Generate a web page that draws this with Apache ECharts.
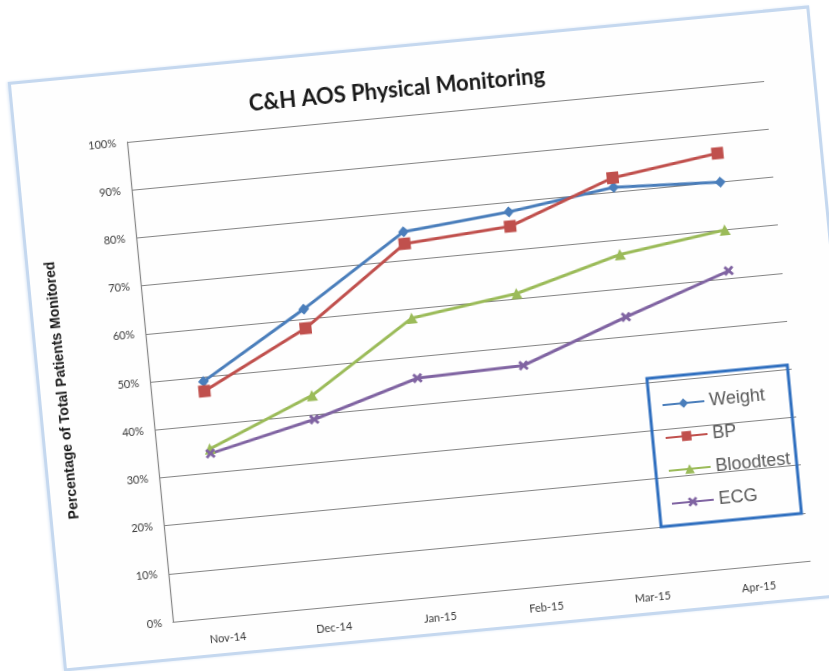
<!DOCTYPE html>
<html>
<head>
<meta charset="utf-8">
<title>C&amp;H AOS Physical Monitoring</title>
<script src="https://cdn.jsdelivr.net/npm/echarts@6/dist/echarts.min.js"></script>
<style>
  html, body { margin: 0; padding: 0; width: 829px; height: 671px; overflow: hidden; background: #fff; }
  /* the photo shows the chart tilted, so the whole card is turned round the plot corner */
  .card {
    position: absolute; left: 17px; top: 74px; width: 799px; height: 586px;
    background: #fefefe; box-shadow: 0 0 0 3px #c5d8ef, -1px 0 3px 3px #dde8f6;
    transform-origin: 110px 68px; transform: rotate(-5.47deg);
  }
  #chart { width: 799px; height: 586px; }
</style>
</head>
<body>
<div class="card"><div id="chart"></div></div>
<script>
// data (percent of total patients)
const months = ['Nov-14', 'Dec-14', 'Jan-15', 'Feb-15', 'Mar-15', 'Apr-15'];
const weight = [49, 62, 76, 78, 81, 80];
const bp = [47, 58, 73.5, 75, 83, 86];
const bloodtest = [35, 44, 58, 61, 67, 70];
const ecg = [34, 39, 45.5, 46, 54, 61.5];

const crossPath = 'path://M0,2L2,0L5,3L8,0L10,2L7,5L10,8L8,10L5,7L2,10L0,8L3,5Z';

const chart = echarts.init(document.getElementById('chart'));

function lineSeries(name, data, color, symbol, size) {
  return {
    name: name,
    type: 'line',
    data: data,
    symbol: symbol,
    symbolSize: size,
    showSymbol: true,
    lineStyle: { color: color, width: 3 },
    itemStyle: { color: color },
    emphasis: { disabled: true },
    z: 3,
  };
}

const option = {
  animation: false,
  title: {
    text: 'C&H AOS Physical Monitoring',
    left: 230,
    top: 26,
    textStyle: { fontFamily: 'Lato', fontWeight: 'bold', fontSize: 22, color: '#1a1a1a' },
  },
  grid: {
    left: 110,
    top: 68,
    width: 640,
    height: 482,
    containLabel: false,
  },
  legend: {
    orient: 'vertical',
    left: 612,
    top: 366,
    itemWidth: 42,
    itemHeight: 12,
    itemGap: 13,
    textStyle: { fontFamily: 'Liberation Sans', fontSize: 18, lineHeight: 20, color: '#5a5a5a' },
    data: ['Weight', 'BP', 'Bloodtest', 'ECG'],
  },
  graphic: [
    {
      type: 'rect',
      shape: { x: 605, y: 353, width: 141, height: 149 },
      style: { fill: 'none', stroke: '#2f6fbf', lineWidth: 3 },
      z: 10,
    },
  ],
  xAxis: {
    type: 'category',
    data: months,
    boundaryGap: true,
    axisLine: { show: true, lineStyle: { color: '#858585', width: 1.2 } },
    axisTick: { show: false },
    axisLabel: { margin: 16, fontFamily: 'Lato', fontSize: 11, color: '#3a3a3a' },
  },
  yAxis: {
    type: 'value',
    min: 0,
    max: 100,
    interval: 10,
    name: 'Percentage of Total Patients Monitored',
    nameLocation: 'middle',
    nameGap: 81,
    nameTextStyle: { fontFamily: 'Liberation Sans', fontWeight: 'bold', fontSize: 14, color: '#1a1a1a' },
    axisLine: { show: true, lineStyle: { color: '#858585', width: 1.2 } },
    axisTick: { show: false },
    axisLabel: { margin: 11, fontFamily: 'Lato', fontSize: 11, color: '#3a3a3a', formatter: '{value}%' },
    splitLine: { lineStyle: { color: '#858585', width: 1.2 } },
  },
  series: [
    lineSeries('Weight', weight, '#4a7ebb', 'diamond', 11),
    lineSeries('BP', bp, '#c0504d', 'rect', 12),
    lineSeries('Bloodtest', bloodtest, '#9bbb59', 'triangle', 11),
    lineSeries('ECG', ecg, '#8064a2', crossPath, 10),
  ],
};

chart.setOption(option);
</script>
</body>
</html>
